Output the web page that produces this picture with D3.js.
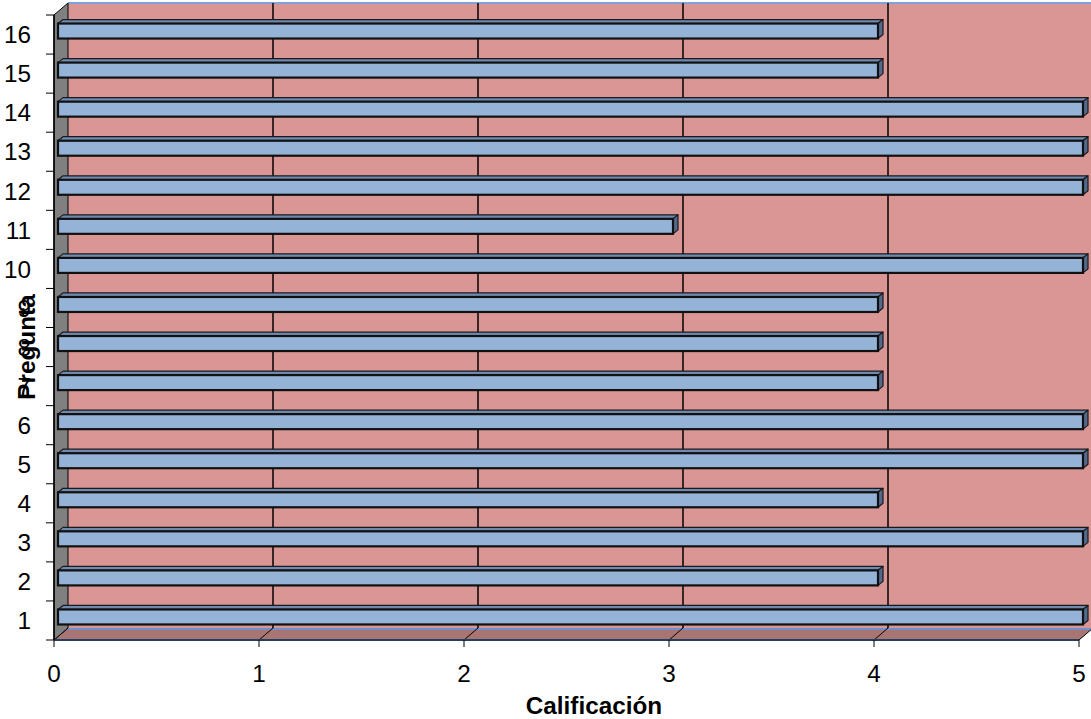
<!DOCTYPE html>
<html>
<head>
<meta charset="utf-8">
<script src="https://cdn.jsdelivr.net/npm/d3@7"></script>
<style>
  html, body { margin: 0; padding: 0; background: #ffffff; }
  svg { display: block; }
  text { font-family: Arial, "Liberation Sans", sans-serif; fill: #000; }
</style>
</head>
<body>
<svg id="chart" width="1091" height="719"></svg>
<script>
// ---- data ----
const categories = ["1","2","3","4","5","6","7","8","9","10","11","12","13","14","15","16"];
const values = [5, 4, 5, 4, 5, 5, 4, 4, 4, 5, 3, 5, 5, 5, 4, 4];
const xTicks = [0, 1, 2, 3, 4, 5];
const xTitle = "Calificación";
const yTitle = "Pregunta";

// ---- layout ----
const front = { left: 54, right: 1079, top: 15, bottom: 640 };
const depth = { dx: 14, dy: -12 };         // wall depth offset
const barFront = { dx: 4, dy: -3.5 };      // bar front face offset inside the depth
const barDepth = { dx: 5, dy: -4 };        // bar thickness in depth
const barH = 15;

const svg = d3.select("#chart");

const x = d3.scaleLinear().domain([0, 5]).range([front.left, front.right]);
const y = d3.scaleBand().domain(categories.slice().reverse()).range([front.top, front.bottom]).padding(0);

const pts = a => a.map(p => p.join(",")).join(" ");

// back wall
svg.append("polygon")
  .attr("points", pts([
    [x(0) + depth.dx, front.top + depth.dy],
    [x(5) + depth.dx, front.top + depth.dy],
    [x(5) + depth.dx, front.bottom + depth.dy],
    [x(0) + depth.dx, front.bottom + depth.dy]
  ]))
  .attr("fill", "#d99694");

// top border of back wall
svg.append("line")
  .attr("x1", x(0) + depth.dx).attr("x2", x(5) + depth.dx)
  .attr("y1", front.top + depth.dy).attr("y2", front.top + depth.dy)
  .attr("stroke", "#7fa3d9").attr("stroke-width", 2);

// floor
svg.append("polygon")
  .attr("points", pts([
    [x(0), front.bottom],
    [x(5), front.bottom],
    [x(5) + depth.dx, front.bottom + depth.dy],
    [x(0) + depth.dx, front.bottom + depth.dy]
  ]))
  .attr("fill", "#a87573");

svg.append("line")
  .attr("x1", x(0) + depth.dx).attr("x2", x(5) + depth.dx)
  .attr("y1", front.bottom + depth.dy + 1).attr("y2", front.bottom + depth.dy + 1)
  .attr("stroke", "#6f8fcf").attr("stroke-width", 2);

// back-wall vertical gridlines and floor diagonals
xTicks.forEach(t => {
  if (t > 0) {
    svg.append("line")
      .attr("x1", x(t) + depth.dx).attr("x2", x(t) + depth.dx)
      .attr("y1", front.top + depth.dy).attr("y2", front.bottom + depth.dy)
      .attr("stroke", "#000").attr("stroke-width", 1.5);
  }
  svg.append("line")
    .attr("x1", x(t)).attr("y1", front.bottom)
    .attr("x2", x(t) + depth.dx).attr("y2", front.bottom + depth.dy)
    .attr("stroke", "#000").attr("stroke-width", 1);
});

// left side wall
svg.append("polygon")
  .attr("points", pts([
    [x(0), front.top],
    [x(0) + depth.dx, front.top + depth.dy],
    [x(0) + depth.dx, front.bottom + depth.dy],
    [x(0), front.bottom]
  ]))
  .attr("fill", "#808080").attr("stroke", "#000").attr("stroke-width", 1);

// bars
const bars = svg.append("g");
categories.forEach((c, i) => {
  const v = values[i];
  const cy = y(c) + y.bandwidth() / 2 + barFront.dy;
  const x0 = x(0) + barFront.dx;
  const x1 = x(v) + barFront.dx;
  const y0 = cy - barH / 2, y1 = cy + barH / 2;
  const g = bars.append("g");
  g.append("polygon")
    .attr("points", pts([[x0, y0], [x1, y0], [x1 + barDepth.dx, y0 + barDepth.dy], [x0 + barDepth.dx, y0 + barDepth.dy]]))
    .attr("fill", "#6f8ab0").attr("stroke", "#1a1a1a").attr("stroke-width", 1.2).attr("stroke-linejoin", "round");
  g.append("polygon")
    .attr("points", pts([[x1, y0], [x1 + barDepth.dx, y0 + barDepth.dy], [x1 + barDepth.dx, y1 + barDepth.dy], [x1, y1]]))
    .attr("fill", "#52698c").attr("stroke", "#1a1a1a").attr("stroke-width", 1.2).attr("stroke-linejoin", "round");
  g.append("rect")
    .attr("x", x0).attr("y", y0).attr("width", x1 - x0).attr("height", y1 - y0)
    .attr("fill", "#95b3d7").attr("stroke", "#111").attr("stroke-width", 2.2);
});

// front axes
svg.append("line")
  .attr("x1", x(0)).attr("x2", x(5)).attr("y1", front.bottom).attr("y2", front.bottom)
  .attr("stroke", "#243f60").attr("stroke-width", 2);
svg.append("line")
  .attr("x1", x(0)).attr("x2", x(0)).attr("y1", front.top).attr("y2", front.bottom)
  .attr("stroke", "#000").attr("stroke-width", 1.5);

// y ticks at band boundaries
const yBounds = categories.map(c => y(c)).concat([front.bottom]);
svg.append("g").selectAll("line").data(yBounds).join("line")
  .attr("x1", x(0) - 8).attr("x2", x(0))
  .attr("y1", d => d).attr("y2", d => d)
  .attr("stroke", "#000").attr("stroke-width", 1);

// x ticks
svg.append("g").selectAll("line").data(xTicks).join("line")
  .attr("x1", d => x(d)).attr("x2", d => x(d))
  .attr("y1", front.bottom).attr("y2", front.bottom + 7)
  .attr("stroke", "#000").attr("stroke-width", 1);

// y labels
svg.append("g").selectAll("text").data(categories).join("text")
  .attr("x", 31).attr("y", d => y(d) + y.bandwidth() / 2)
  .attr("dy", "0.36em")
  .attr("text-anchor", "end")
  .attr("font-size", 24.3)
  .text(d => d);

// x labels
svg.append("g").selectAll("text").data(xTicks).join("text")
  .attr("x", d => x(d)).attr("y", 682)
  .attr("text-anchor", "middle")
  .attr("font-size", 24.3)
  .text(d => d);

// titles
svg.append("text")
  .attr("x", 594).attr("y", 714)
  .attr("text-anchor", "middle")
  .attr("font-size", 24.3).attr("font-weight", "bold")
  .text(xTitle);

svg.append("text")
  .attr("transform", "translate(35,347) rotate(-90)")
  .attr("text-anchor", "middle")
  .attr("font-size", 24.3).attr("font-weight", "bold")
  .text(yTitle);
</script>
</body>
</html>
